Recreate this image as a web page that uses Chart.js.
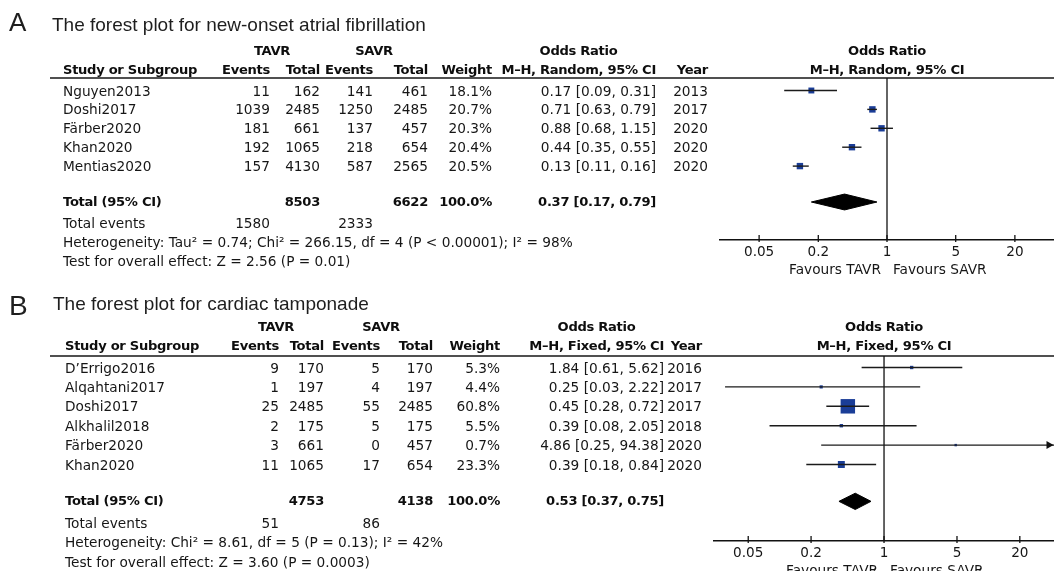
<!DOCTYPE html>
<html>
<head>
<meta charset="utf-8">
<title>Forest plots: TAVR vs SAVR</title>
<script src="https://cdn.jsdelivr.net/npm/chart.js@4.4.1/dist/chart.umd.min.js"></script>
<style>
  html, body { margin: 0; padding: 0; background: #fff; }
  #page { position: relative; width: 1054px; height: 571px; overflow: hidden; }
  .panel { position: absolute; left: 0; width: 1054px; }
  .panel canvas { position: absolute; left: 0; top: 0; }
  .txt { position: absolute; white-space: nowrap; font-family: "DejaVu Sans", sans-serif;
         font-size: 13.7px; line-height: 16px; color: #161616; }
  .bold { font-weight: bold; font-size: 13.1px; letter-spacing: -0.3px; color: #0e0e0e; }
  .right { transform: translateX(-100%); }
  .center { transform: translateX(-50%); }
  .title { position: absolute; white-space: nowrap; font-family: "Liberation Sans", Arial, sans-serif;
           line-height: 1; color: #1e1e1e; }
</style>
</head>
<body>
<div id="page">
  <div class="panel" id="panelA"><canvas id="chartA"></canvas></div>
  <div class="panel" id="panelB"><canvas id="chartB"></canvas></div>
</div>
<script>
// Tick values shared by both odds-ratio axes
const axisTicks = [0.05, 0.2, 1, 5, 20];

// ---------- A: new-onset atrial fibrillation (M–H, random effects) ----------
const afStudy       = ['Nguyen2013', 'Doshi2017', 'Färber2020', 'Khan2020', 'Mentias2020'];
const afTavrEvents  = [11, 1039, 181, 192, 157];
const afTavrTotal   = [162, 2485, 661, 1065, 4130];
const afSavrEvents  = [141, 1250, 137, 218, 587];
const afSavrTotal   = [461, 2485, 457, 654, 2565];
const afWeight      = [18.1, 20.7, 20.3, 20.4, 20.5];
const afOR          = [0.17, 0.71, 0.88, 0.44, 0.13];
const afLower       = [0.09, 0.63, 0.68, 0.35, 0.11];
const afUpper       = [0.31, 0.79, 1.15, 0.55, 0.16];
const afYear        = [2013, 2017, 2020, 2020, 2020];
const afPooled      = [0.37, 0.17, 0.79];   // OR, lower, upper
const afHeterogeneity = 'Heterogeneity: Tau² = 0.74; Chi² = 266.15, df = 4 (P < 0.00001); I² = 98%';
const afOverall       = 'Test for overall effect: Z = 2.56 (P = 0.01)';

// ---------- B: cardiac tamponade (M–H, fixed effect) ----------
const ctStudy       = ['D’Errigo2016', 'Alqahtani2017', 'Doshi2017', 'Alkhalil2018', 'Färber2020', 'Khan2020'];
const ctTavrEvents  = [9, 1, 25, 2, 3, 11];
const ctTavrTotal   = [170, 197, 2485, 175, 661, 1065];
const ctSavrEvents  = [5, 4, 55, 5, 0, 17];
const ctSavrTotal   = [170, 197, 2485, 175, 457, 654];
const ctWeight      = [5.3, 4.4, 60.8, 5.5, 0.7, 23.3];
const ctOR          = [1.84, 0.25, 0.45, 0.39, 4.86, 0.39];
const ctLower       = [0.61, 0.03, 0.28, 0.08, 0.25, 0.18];
const ctUpper       = [5.62, 2.22, 0.72, 2.05, 94.38, 0.84];
const ctYear        = [2016, 2017, 2017, 2018, 2020, 2020];
const ctPooled      = [0.53, 0.37, 0.75];
const ctHeterogeneity = 'Heterogeneity: Chi² = 8.61, df = 5 (P = 0.13); I² = 42%';
const ctOverall       = 'Test for overall effect: Z = 3.60 (P = 0.0003)';

const SQUARE_BLUE = '#1a3d97';
const INK = '#161616';

// side of a study square (px) grows with its weight
function squareSide(w) { return 0.2 * w + 2.3; }
const sum = a => a.reduce((s, v) => s + v, 0);
const f2 = v => v.toFixed(2);

const panels = [
  {
    letter: 'A', title: 'The forest plot for new-onset atrial fibrillation', method: 'M–H, Random, 95% CI',
    study: afStudy, tavrEv: afTavrEvents, tavrTot: afTavrTotal, savrEv: afSavrEvents, savrTot: afSavrTotal,
    weight: afWeight, or: afOR, lower: afLower, upper: afUpper, year: afYear, pooled: afPooled,
    het: afHeterogeneity, overall: afOverall,
    layout: { el: 'panelA', canvas: 'chartA', top: 0, height: 285, row0: 90.5, pitch: 18.9,
              ruleY: 78, axisY: 240, axisLeft: 720, xMin: 0.02, xMax: 50, ruleLeft: 50,
              letterX: 9, letterBase: 31.5, letterSize: 26, titleX: 52, titleBase: 31.5, titleSize: 19,
              col: { study: 63, evT: 270, totT: 320, evS: 373, totS: 428, weight: 492, or: 656, year: 708 },
              grpT: 272, grpS: 374 }
  },
  {
    letter: 'B', title: 'The forest plot for cardiac tamponade', method: 'M–H, Fixed, 95% CI',
    study: ctStudy, tavrEv: ctTavrEvents, tavrTot: ctTavrTotal, savrEv: ctSavrEvents, savrTot: ctSavrTotal,
    weight: ctWeight, or: ctOR, lower: ctLower, upper: ctUpper, year: ctYear, pooled: ctPooled,
    het: ctHeterogeneity, overall: ctOverall,
    layout: { el: 'panelB', canvas: 'chartB', top: 285, height: 286, row0: 367.5, pitch: 19.4,
              ruleY: 356, axisY: 541, axisLeft: 714, xMin: 0.0235, xMax: 42.5, ruleLeft: 50,
              letterX: 9, letterBase: 31, letterSize: 28, titleX: 53, titleBase: 25, titleSize: 19,
              col: { study: 65, evT: 279, totT: 324, evS: 380, totS: 433, weight: 500, or: 664, year: 702 },
              grpT: 276, grpS: 381 }
  }
];

// Frame pieces drawn around the datasets: header rule, line of no effect,
// rising tick marks and arrowheads for intervals running off the axis.
function forestDecor(p) {
  const L = p.layout;
  return {
    id: 'forestDecor',
    beforeDatasetsDraw(chart) {
      const { ctx, chartArea: a, scales: { x } } = chart;
      ctx.save();
      ctx.strokeStyle = '#505050';
      ctx.lineWidth = 2;
      ctx.beginPath();
      ctx.moveTo(L.ruleLeft, a.top);
      ctx.lineTo(chart.width, a.top);
      ctx.stroke();

      ctx.strokeStyle = '#111';
      ctx.lineWidth = 1.3;
      const x1 = x.getPixelForValue(1);
      ctx.beginPath();
      ctx.moveTo(x1, a.top);
      ctx.lineTo(x1, a.bottom);
      ctx.stroke();

      axisTicks.forEach(v => {
        const px = x.getPixelForValue(v);
        ctx.beginPath();
        ctx.moveTo(px, a.bottom - 5);
        ctx.lineTo(px, a.bottom + 2);
        ctx.stroke();
      });
      ctx.restore();
    },
    afterDatasetsDraw(chart) {
      const { ctx, chartArea: a, scales: { y } } = chart;
      ctx.save();
      ctx.fillStyle = '#111';
      p.upper.forEach((u, i) => {
        if (u <= L.xMax) return;
        const tip = a.right - 0.5, py = y.getPixelForValue(i);
        ctx.beginPath();
        ctx.moveTo(tip, py);
        ctx.lineTo(tip - 7, py - 4);
        ctx.lineTo(tip - 7, py + 4);
        ctx.closePath();
        ctx.fill();
      });
      ctx.restore();
    }
  };
}

function buildPanel(p) {
  const L = p.layout;
  const n = p.study.length;
  const totalRow = n + 0.9;
  const host = document.getElementById(L.el);
  host.style.top = L.top + 'px';
  host.style.height = L.height + 'px';
  const canvas = document.getElementById(L.canvas);
  canvas.width = 1054;
  canvas.height = L.height;

  const ruleLocal = L.ruleY - L.top, axisLocal = L.axisY - L.top, row0Local = L.row0 - L.top;
  const yMin = (ruleLocal - row0Local) / L.pitch;
  const yMax = (axisLocal - row0Local) / L.pitch;

  const datasets = [];
  // confidence-interval whiskers
  p.study.forEach((s, i) => {
    datasets.push({
      data: [{ x: p.lower[i], y: i }, { x: Math.min(p.upper[i], L.xMax), y: i }],
      borderColor: '#1b1b1b', borderWidth: 1.4, pointRadius: 0
    });
  });
  // study estimates, square area follows the weight
  datasets.push({
    showLine: false,
    data: p.or.map((v, i) => ({ x: v, y: i })),
    pointStyle: 'rect',
    pointRadius: p.weight.map(w => squareSide(w) / Math.SQRT2),
    pointBackgroundColor: SQUARE_BLUE, pointBorderColor: SQUARE_BLUE, pointBorderWidth: 0
  });
  // pooled estimate diamond
  const [po, pl, pu] = p.pooled, h = 0.42;
  datasets.push({
    data: [{ x: pl, y: totalRow }, { x: po, y: totalRow - h }, { x: pu, y: totalRow },
           { x: po, y: totalRow + h }, { x: pl, y: totalRow }],
    fill: 'shape', backgroundColor: '#000', borderColor: '#000', borderWidth: 1,
    pointRadius: 0, tension: 0
  });

  const chart = new Chart(canvas, {
    type: 'line',
    data: { datasets },
    options: {
      responsive: false, animation: false, events: [],
      layout: { autoPadding: false, padding: { left: L.axisLeft, right: 0, top: ruleLocal, bottom: 0 } },
      plugins: { legend: { display: false }, tooltip: { enabled: false } },
      scales: {
        x: {
          type: 'logarithmic', min: L.xMin, max: L.xMax, position: 'bottom',
          afterBuildTicks: s => { s.ticks = axisTicks.map(v => ({ value: v })); },
          afterFit: s => { s.height = L.height - axisLocal; },
          grid: { display: false, drawTicks: false },
          border: { display: true, color: '#111', width: 1.4 },
          ticks: {
            autoSkip: false, maxRotation: 0, minRotation: 0, padding: 4, color: INK,
            font: { family: 'DejaVu Sans', size: 13.6 },
            callback: v => String(v)
          }
        },
        y: { type: 'linear', display: false, reverse: true, min: yMin, max: yMax }
      }
    },
    plugins: [forestDecor(p)]
  });

  // ---- table text, rows placed on the chart's own row scale ----
  const ys = chart.scales.y, xs = chart.scales.x;
  const rowY = r => ys.getPixelForValue(r);
  function put(text, x, row, cls, yPx) {
    const d = document.createElement('div');
    d.className = 'txt ' + (cls || '');
    d.textContent = text;
    d.style.left = x + 'px';
    d.style.top = ((yPx !== undefined ? yPx : rowY(row)) - 8) + 'px';
    host.appendChild(d);
    return d;
  }
  const C = L.col;
  const plotMid = (chart.chartArea.left + chart.chartArea.right) / 2;

  // panel letter and title
  const letter = document.createElement('div');
  letter.className = 'title';
  letter.textContent = p.letter;
  letter.style.fontSize = L.letterSize + 'px';
  letter.style.left = L.letterX + 'px';
  letter.style.top = (L.letterBase - 0.8465 * L.letterSize) + 'px';
  host.appendChild(letter);
  const title = document.createElement('div');
  title.className = 'title';
  title.textContent = p.title;
  title.style.fontSize = L.titleSize + 'px';
  title.style.left = L.titleX + 'px';
  title.style.top = (L.titleBase - 0.8465 * L.titleSize) + 'px';
  host.appendChild(title);

  // header rows
  const h1 = -2.07, h2 = -1.1;
  put('TAVR', L.grpT, h1, 'bold center');
  put('SAVR', L.grpS, h1, 'bold center');
  const methodHead = put(p.method, C.or, h2, 'bold right');
  put('Odds Ratio', C.or - methodHead.offsetWidth / 2, h1, 'bold center');
  put('Odds Ratio', plotMid, h1, 'bold center');
  put(p.method, plotMid, h2, 'bold center');
  put('Study or Subgroup', C.study, h2, 'bold');
  put('Events', C.evT, h2, 'bold right');
  put('Total', C.totT, h2, 'bold right');
  put('Events', C.evS, h2, 'bold right');
  put('Total', C.totS, h2, 'bold right');
  put('Weight', C.weight, h2, 'bold right');
  put('Year', C.year, h2, 'bold right');

  // study rows
  p.study.forEach((s, i) => {
    put(s, C.study, i);
    put(String(p.tavrEv[i]), C.evT, i, 'right');
    put(String(p.tavrTot[i]), C.totT, i, 'right');
    put(String(p.savrEv[i]), C.evS, i, 'right');
    put(String(p.savrTot[i]), C.totS, i, 'right');
    put(p.weight[i].toFixed(1) + '%', C.weight, i, 'right');
    put(f2(p.or[i]) + ' [' + f2(p.lower[i]) + ', ' + f2(p.upper[i]) + ']', C.or, i, 'right');
    put(String(p.year[i]), C.year, i, 'right');
  });

  // pooled row and footer
  put('Total (95% CI)', C.study, totalRow, 'bold');
  put(String(sum(p.tavrTot)), C.totT, totalRow, 'bold right');
  put(String(sum(p.savrTot)), C.totS, totalRow, 'bold right');
  put(sum(p.weight).toFixed(1) + '%', C.weight, totalRow, 'bold right');
  put(f2(po) + ' [' + f2(pl) + ', ' + f2(pu) + ']', C.or, totalRow, 'bold right');
  put('Total events', C.study, n + 2);
  put(String(sum(p.tavrEv)), C.evT, n + 2, 'right');
  put(String(sum(p.savrEv)), C.evS, n + 2, 'right');
  put(p.het, C.study, n + 3);
  put(p.overall, C.study, n + 4);

  // direction labels under the axis
  const x1 = xs.getPixelForValue(1);
  const favY = chart.chartArea.bottom + 29;
  put('Favours TAVR', x1 - 6, null, 'right', favY);
  put('Favours SAVR', x1 + 6, null, '', favY);
}

panels.forEach(buildPanel);
</script>
</body>
</html>
